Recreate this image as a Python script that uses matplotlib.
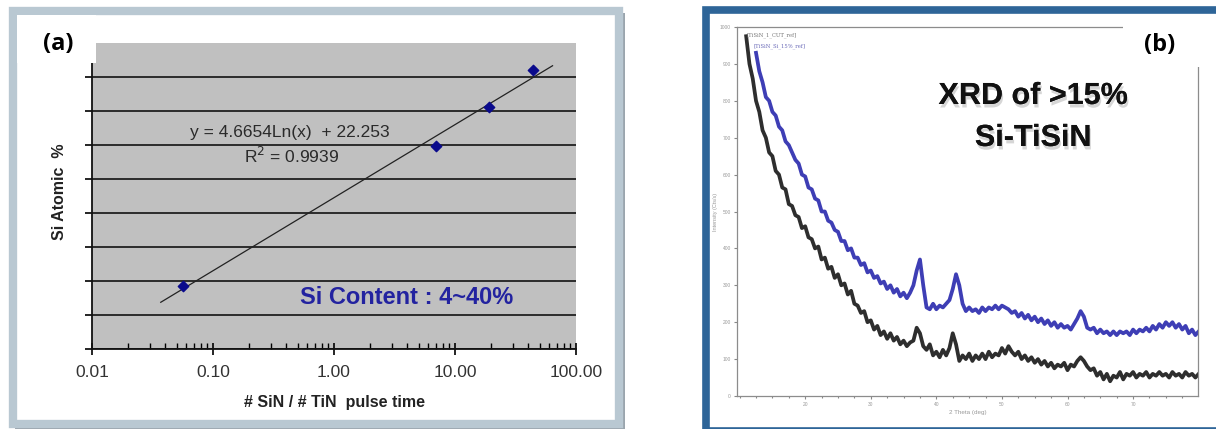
import numpy as np
import matplotlib
matplotlib.use('Agg')
import matplotlib.pyplot as plt
import matplotlib.patheffects as pe
from matplotlib.patches import Rectangle
from matplotlib.ticker import LogLocator, NullFormatter, FixedLocator, MultipleLocator

plt.rcParams['font.family'] = ['Liberation Sans', 'DejaVu Sans']

# ---------------------------------------------------------------- data (a)
pulse_ratio = [0.057, 7.0, 19.1, 44.2]
si_atomic = [9.3, 29.8, 35.6, 41.0]
fit_a, fit_b = 4.6654, 22.253
fit_range = [0.037, 64.0]
xtick_vals = [0.01, 0.1, 1, 10, 100]
xtick_labels = ['0.01', '0.10', '1.00', '10.00', '100.00']

# ---------------------------------------------------------------- data (b)
theta_black = np.arange(11.0, 80.01, 0.5)
cts_black = [975, 900, 860, 800, 770, 720, 700, 660, 650, 610,
             600, 565, 560, 520, 515, 490, 485, 455, 460, 430,
             425, 400, 405, 370, 375, 345, 350, 320, 330, 300,
             305, 275, 285, 250, 245, 225, 230, 200, 205, 180,
             190, 165, 175, 155, 170, 150, 160, 140, 150, 135,
             145, 150, 185, 170, 135, 125, 140, 110, 120, 105,
             125, 110, 130, 170, 140, 95, 110, 100, 115, 95,
             110, 100, 115, 100, 120, 105, 115, 110, 130, 115,
             135, 120, 110, 120, 100, 110, 95, 105, 90, 100,
             85, 95, 80, 90, 75, 85, 80, 90, 70, 85,
             80, 95, 105, 95, 80, 70, 75, 55, 65, 45,
             60, 40, 55, 50, 65, 45, 60, 55, 65, 50,
             60, 55, 65, 50, 60, 55, 65, 55, 60, 50,
             65, 55, 60, 50, 65, 55, 60, 50, 60]
theta_blue = np.arange(12.5, 80.01, 0.5)
cts_blue = [930, 880, 850, 810, 800,
            770, 760, 730, 720, 690, 680, 660, 640, 630, 600,
            595, 565, 560, 535, 530, 500, 500, 475, 470, 450,
            445, 420, 420, 395, 400, 375, 375, 355, 360, 335,
            340, 320, 325, 305, 310, 290, 300, 280, 290, 270,
            280, 265, 280, 300, 340, 370, 300, 240, 235, 250,
            235, 245, 240, 250, 260, 290, 330, 300, 250, 230,
            240, 230, 235, 225, 240, 230, 240, 235, 245, 235,
            245, 240, 235, 225, 230, 215, 225, 210, 220, 205,
            215, 200, 210, 195, 205, 190, 200, 185, 195, 185,
            190, 180, 195, 210, 230, 215, 185, 180, 185, 170,
            180, 170, 175, 165, 175, 165, 175, 170, 175, 165,
            180, 170, 180, 175, 185, 175, 190, 180, 195, 185,
            200, 190, 200, 185, 195, 180, 190, 170, 180, 165,
            175]
legend_lines = ['[TiSiN_1_CUT_ref]', '[TiSiN_Si_15%_ref]']

W, H = 1216, 429


def fx(px):
    return px / W


def fy(py):
    return 1 - py / H


def frect(x0, y0, x1, y1, **kw):
    # rectangle given in pixel coords (top-left origin)
    r = Rectangle((fx(x0), fy(y1)), fx(x1) - fx(x0), fy(y0) - fy(y1),
                  transform=fig.transFigure, **kw)
    fig.add_artist(r)
    return r


fig = plt.figure(figsize=(W / 100, H / 100), dpi=100)

# frames
frect(15, 13, 625, 430, facecolor='#9aa5ad', edgecolor='none', zorder=-3)
frect(13, 11, 619, 424, facecolor='white', edgecolor='#b9c8d2', lw=6, zorder=-2)
frect(706, 10, 1240, 431, facecolor='white', edgecolor='#2e6598', lw=5.5, zorder=-2)

# ---------------------------------------------------------------- panel (a)
ax1 = fig.add_axes([fx(92), fy(349), fx(576) - fx(92), fy(43) - fy(349)])
ax1.set_facecolor('#c0c0c0')
ax1.set_xscale('log')
ax1.set_xlim(0.01, 100)
ax1.set_ylim(0, 45)
for s in ['top', 'right']:
    ax1.spines[s].set_visible(False)
for s in ['left', 'bottom']:
    ax1.spines[s].set_color('#111111')
    ax1.spines[s].set_linewidth(1.3)
ax1.yaxis.set_major_locator(FixedLocator(np.arange(0, 41, 5)))
ax1.set_yticklabels([])
ax1.grid(axis='y', color='#2b2b2b', lw=1.4)
ax1.set_axisbelow(True)
ax1.xaxis.set_major_locator(FixedLocator(xtick_vals))
ax1.set_xticklabels(xtick_labels)
ax1.xaxis.set_minor_locator(LogLocator(base=10, subs=np.arange(2, 10)))
ax1.xaxis.set_minor_formatter(NullFormatter())
ax1.tick_params(axis='x', which='major', direction='inout', length=9, width=1.2,
                labelsize=12.5, labelcolor='#333333', pad=7)
ax1.tick_params(axis='x', which='minor', direction='in', length=4, width=1)
ax1.tick_params(axis='y', direction='out', length=5, width=1.2)

xf = np.geomspace(fit_range[0], fit_range[1], 50)
ax1.plot(xf, fit_a * np.log(xf) + fit_b, color='#222222', lw=0.9, zorder=3)
ax1.scatter(pulse_ratio, si_atomic, marker='D', s=28, color='#0a0a8c', zorder=4)

fig.text(fx(290), fy(132), 'y = 4.6654Ln(x)  + 22.253', ha='center', va='center',
         fontsize=12.5, color='#2a2a2a')
fig.text(fx(292), fy(156), 'R$^2$ = 0.9939', ha='center', va='center',
         fontsize=12.5, color='#2a2a2a')
fig.text(fx(407), fy(297), 'Si Content : 4~40%', ha='center', va='center',
         fontsize=17, fontweight='bold', color='#2323a0')
fig.text(fx(60), fy(192), 'Si Atomic  %', rotation=90, ha='center', va='center',
         fontsize=11.5, fontweight='bold', color='#222222')
fig.text(fx(334), fy(403), '# SiN / # TiN  pulse time', ha='center', va='center',
         fontsize=11.5, fontweight='bold', color='#222222')

frect(17, 15, 96, 63, facecolor='white', edgecolor='none', zorder=5)
fig.text(fx(58), fy(44), '(a)', ha='center', va='center', fontsize=17,
         fontweight='bold', family=['Open Sans', 'DejaVu Sans'], zorder=6)

# ---------------------------------------------------------------- panel (b)
ax2 = fig.add_axes([fx(737), fy(396), fx(1198) - fx(737), fy(27) - fy(396)])
ax2.set_xlim(9.6, 79.9)
ax2.set_ylim(0, 1000)
for s in ax2.spines.values():
    s.set_color('#8c8c8c')
    s.set_linewidth(0.9)
ax2.plot(theta_black, cts_black, color='#111111', lw=2.7, alpha=0.88)
ax2.plot(theta_blue, cts_blue, color='#1c1ca8', lw=2.7, alpha=0.85)
ax2.xaxis.set_major_locator(FixedLocator([20, 30, 40, 50, 60, 70]))
ax2.xaxis.set_minor_locator(MultipleLocator(2.5))
ax2.yaxis.set_major_locator(MultipleLocator(100))
ax2.tick_params(which='both', direction='out', length=2.5, width=0.8, colors='#888888',
                labelsize=3.5, labelcolor='#999999', pad=2)
ax2.tick_params(which='minor', length=1.5)
ax2.set_xlabel('2 Theta (deg)', fontsize=4.5, color='#999999', labelpad=2)
ax2.set_ylabel('Intensity (Cts/s)', fontsize=4, color='#999999', labelpad=1)
ax2.text(0.02, 0.985, legend_lines[0], transform=ax2.transAxes, fontsize=3.8,
         color='#777777', va='top', family=['DejaVu Serif'])
ax2.text(0.035, 0.955, legend_lines[1], transform=ax2.transAxes, fontsize=3.8,
         color='#6a6ab8', va='top', family=['DejaVu Serif'])

shadow = [pe.withSimplePatchShadow(offset=(1, -2.5), shadow_rgbFace='#999999', alpha=0.4),
          pe.Normal()]
fig.text(fx(1033), fy(96), 'XRD of >15%', ha='center', va='center', fontsize=22,
         fontweight='bold', color='#111111', path_effects=shadow)
fig.text(fx(1033), fy(138), 'Si-TiSiN', ha='center', va='center', fontsize=22,
         fontweight='bold', color='#111111', path_effects=shadow)

frect(1123, 15, 1210, 67, facecolor='white', edgecolor='none', zorder=5)
fig.text(fx(1160), fy(45), '(b)', ha='center', va='center', fontsize=17,
         fontweight='bold', family=['Open Sans', 'DejaVu Sans'], zorder=6)

fig.savefig('out.png', dpi=100)
